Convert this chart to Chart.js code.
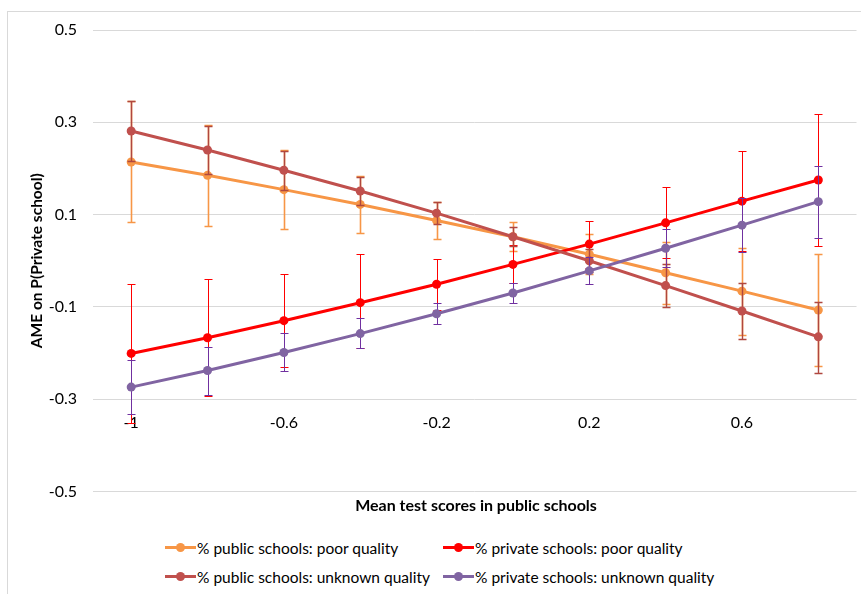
<!DOCTYPE html>
<html>
<head>
<meta charset="utf-8">
<script src="https://cdn.jsdelivr.net/npm/chart.js@4"></script>
<style>
  html, body { margin: 0; padding: 0; background: #fff; }
  body { width: 861px; height: 594px; overflow: hidden; position: relative; font-family: Lato, "Open Sans", sans-serif; color: #000; }
  .frame { position: absolute; left: 7px; top: 11px; width: 900px; height: 640px; border: 1px solid #d9d9d9; box-sizing: border-box; }
  #chart { position: absolute; left: 0; top: 0; }
  .xtitle { position: absolute; left: 93px; width: 766px; top: 495px; text-align: center; font-weight: bold; font-size: 16px; }
  .legend { position: absolute; top: 537px; left: 165px; display: grid; grid-template-columns: 278px 300px; row-gap: 8px; font-size: 15.5px; }
  .legend div { display: flex; align-items: center; height: 21px; white-space: nowrap; }
  .mark { position: relative; width: 31px; height: 3px; margin-right: 1px; }
  .mark::after { content: ""; position: absolute; left: 11px; top: -3px; width: 9px; height: 9px; border-radius: 50%; background: inherit; }
</style>
</head>
<body>
<div class="frame"></div>
<canvas id="chart" width="861" height="517"></canvas>
<div class="xtitle">Mean test scores in public schools</div>
<div class="legend" id="legend"></div>
<script>
const xLabels = ["-1", "-0.8", "-0.6", "-0.4", "-0.2", "0", "0.2", "0.4", "0.6", "0.8"];
const yTicks = [-0.5, -0.3, -0.1, 0.1, 0.3, 0.5];

const seriesNames = [
  "% public schools: poor quality",
  "% private schools: poor quality",
  "% public schools: unknown quality",
  "% private schools: unknown quality",
];

// point estimates and error bar bounds
const publicPoor = [0.214, 0.185, 0.154, 0.122, 0.087, 0.052, 0.014, -0.026, -0.066, -0.107];
const publicPoorLow = [0.083, 0.075, 0.068, 0.059, 0.046, 0.021, -0.029, -0.094, -0.161, -0.228];
const publicPoorHigh = [0.346, 0.294, 0.239, 0.183, 0.127, 0.083, 0.057, 0.041, 0.028, 0.015];

const privatePoor = [-0.201, -0.167, -0.130, -0.091, -0.051, -0.008, 0.036, 0.082, 0.129, 0.175];
const privatePoorLow = [-0.351, -0.294, -0.231, -0.190, -0.106, -0.049, -0.015, 0.005, 0.021, 0.031];
const privatePoorHigh = [-0.051, -0.040, -0.029, 0.015, 0.004, 0.033, 0.087, 0.159, 0.237, 0.319];

const publicUnknown = [0.281, 0.240, 0.196, 0.151, 0.103, 0.052, 0.000, -0.054, -0.109, -0.165];
const publicUnknownLow = [0.216, 0.187, 0.154, 0.121, 0.079, 0.032, -0.025, -0.100, -0.169, -0.243];
const publicUnknownHigh = [0.346, 0.293, 0.238, 0.181, 0.127, 0.072, 0.025, -0.008, -0.049, -0.089];

const privateUnknown = [-0.274, -0.238, -0.199, -0.158, -0.115, -0.070, -0.022, 0.027, 0.077, 0.128];
const privateUnknownLow = [-0.332, -0.290, -0.239, -0.190, -0.138, -0.091, -0.051, -0.014, 0.018, 0.049];
const privateUnknownHigh = [-0.216, -0.188, -0.157, -0.125, -0.091, -0.049, 0.007, 0.068, 0.136, 0.205];

(function () {
  const FONT = "Lato, 'Open Sans', sans-serif";
  const colors = ["#f79646", "#ff0000", "#c0504d", "#8064a2"];
  const errColors = ["#f79646", "#ff0000", "#b0473f", "#7030a0"];
  const errWidths = [1.6, 1, 1.4, 1];

  const values = [publicPoor, privatePoor, publicUnknown, privateUnknown];
  const lows = [publicPoorLow, privatePoorLow, publicUnknownLow, privateUnknownLow];
  const highs = [publicPoorHigh, privatePoorHigh, publicUnknownHigh, privateUnknownHigh];

  // excel-like error bars with small caps
  const errorBars = {
    id: "errorBars",
    beforeDatasetDraw(chart, args) {
      const ds = chart.data.datasets[args.index];
      const y = chart.scales.y;
      const ctx = chart.ctx;
      ctx.save();
      ctx.strokeStyle = ds.errColor;
      ctx.lineWidth = ds.errWidth;
      args.meta.data.forEach((pt, i) => {
        const top = Math.round(y.getPixelForValue(ds.errHigh[i])) + 0.5;
        const bot = Math.round(y.getPixelForValue(ds.errLow[i])) + 0.5;
        const x = Math.round(pt.x) + 0.5;
        ctx.beginPath();
        ctx.moveTo(x, top);
        ctx.lineTo(x, bot);
        ctx.moveTo(x - 4, top);
        ctx.lineTo(x + 4, top);
        ctx.moveTo(x - 4, bot);
        ctx.lineTo(x + 4, bot);
        ctx.stroke();
      });
      ctx.restore();
    },
  };

  const datasets = seriesNames.map((name, i) => ({
    label: name,
    data: values[i],
    errLow: lows[i],
    errHigh: highs[i],
    errColor: errColors[i],
    errWidth: errWidths[i],
    borderColor: colors[i],
    backgroundColor: colors[i],
    borderWidth: 3,
    pointRadius: 4.5,
    pointBorderWidth: 0,
    pointBackgroundColor: colors[i],
    tension: 0,
    order: 4 - i,
  }));

  new Chart(document.getElementById("chart").getContext("2d"), {
    type: "line",
    data: { labels: xLabels, datasets },
    options: {
      responsive: false,
      animation: false,
      layout: { padding: { left: 20, top: 30, right: 2, bottom: 10 } },
      plugins: { legend: { display: false }, tooltip: { enabled: false } },
      scales: {
        x: {
          type: "category",
          offset: true,
          position: { y: -0.3 },
          grid: { display: false },
          border: { display: false },
          ticks: {
            autoSkip: false,
            maxRotation: 0,
            padding: 6,
            color: "#000",
            font: { family: FONT, size: 16 },
            callback: (v, i) => (i % 2 === 0 ? xLabels[i] : ""),
          },
        },
        y: {
          min: -0.5,
          max: 0.5,
          afterBuildTicks: (scale) => {
            scale.ticks = yTicks.map((v) => ({ value: v }));
          },
          afterFit: (scale) => {
            scale.width = 73;
          },
          grid: { color: "#d9d9d9", lineWidth: 1, drawTicks: false },
          border: { display: false },
          ticks: {
            padding: 16,
            color: "#000",
            font: { family: FONT, size: 16 },
            callback: (v) => String(v),
          },
          title: {
            display: true,
            text: "AME on P(Private school)",
            color: "#000",
            font: { family: FONT, size: 15.5, weight: "bold" },
            padding: { top: 8, bottom: 0 },
          },
        },
      },
    },
    plugins: [errorBars],
  });

  // html legend, two columns like the original
  const legend = document.getElementById("legend");
  seriesNames.forEach((name, i) => {
    const item = document.createElement("div");
    item.innerHTML = `<span class="mark" style="background:${colors[i]}"></span><span>${name}</span>`;
    legend.appendChild(item);
  });
})();
</script>
</body>
</html>
